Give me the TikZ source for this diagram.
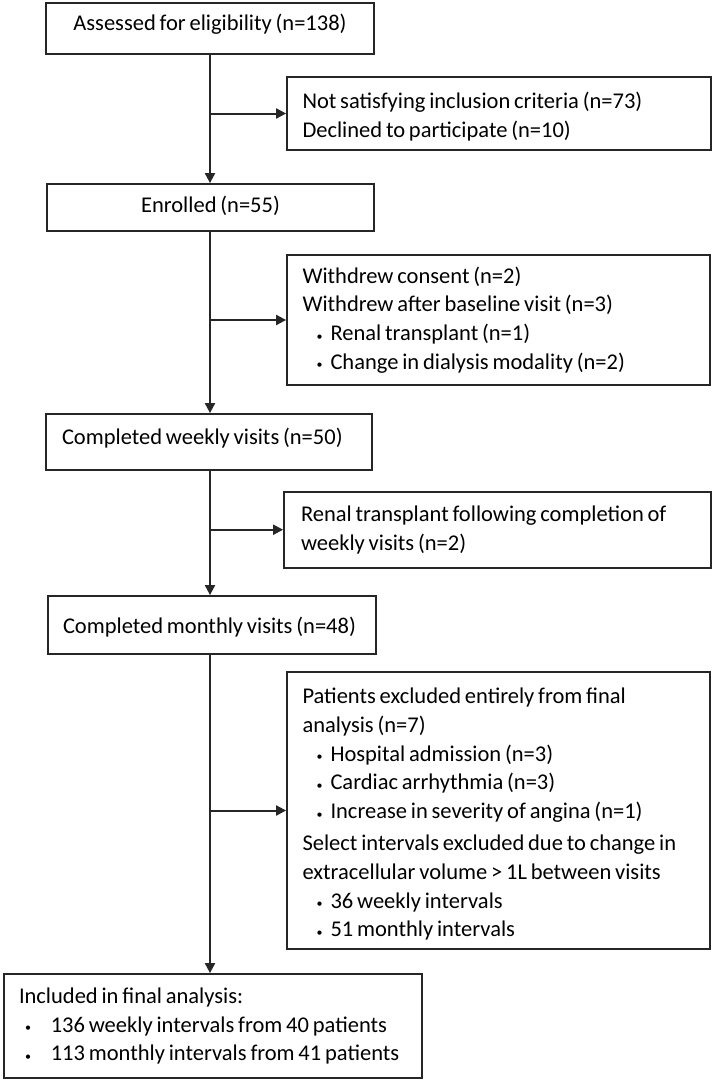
\documentclass[tikz,border=0pt]{standalone}
\usepackage{fontspec}
\setmainfont{Carlito}[WordSpace=0.75]
\usetikzlibrary{arrows.meta}
\newcommand\bul[1][14pt]{\hspace*{#1}\makebox[\dimexpr 28pt-#1\relax][l]{\raisebox{0.5pt}{\fontsize{12}{12}\selectfont •}}}
\newcommand\lift{\rule{0pt}{23pt}}
\definecolor{ink}{HTML}{262626}
\begin{document}
\begin{tikzpicture}[x=1pt,y=-1pt,
  box/.style={draw=ink, line width=1.8pt, inner ysep=0pt, font=\fontsize{22.5}{28.8}\selectfont},
  cbox/.style={box, align=center, inner xsep=0pt, text height=17pt},
  lbox/.style={box, align=left, execute at begin node={\spaceskip=0pt\xspaceskip=0pt\rightskip=0pt plus 1fil\hyphenpenalty=10000\relax}},
  arr/.style={-{Triangle[length=10pt,width=10pt]}, line width=2pt, draw=ink}]
\useasboundingbox (0,0) rectangle (714,1081);

\node[cbox, minimum width=328pt, minimum height=51pt, text depth=12.5pt] (A) at (210,28.5) {Assessed for eligibility (n=138)};
\node[lbox, inner xsep=15.5pt, text width=393pt, minimum height=73pt] (B) at (499,113.5)
  {\lift Not satisfying inclusion criteria (n=73)\\Declined to participate (n=10)};
\node[cbox, minimum width=327pt, minimum height=47pt, text depth=6.5pt] (C) at (210.5,207.5) {Enrolled (n=55)};
\node[lbox, inner xsep=15.5pt, text width=392pt, minimum height=130pt] (D) at (498.5,320)
  {Withdrew consent (n=2)\\Withdrew after baseline visit (n=3)\\\bul Renal transplant (n=1)\\\bul Change in dialysis modality (n=2)};
\node[lbox, inner xsep=16pt, text width=294pt, minimum height=56pt, text height=17pt, text depth=12.5pt] (E) at (209,442) {Completed weekly visits (n=50)};
\node[lbox, inner xsep=17pt, text width=393pt, minimum height=76pt] (F) at (497.5,529.7)
  {Renal transplant following completion of\\weekly visits (n=2)};
\node[lbox, inner xsep=15pt, text width=298pt, minimum height=58pt, text height=17pt, text depth=1pt] (G) at (212,625) {Completed monthly visits (n=48)};
\node[lbox, inner xsep=15.5pt, text width=392pt, minimum height=277pt] (H) at (498.5,810.5)
  {\lift Patients excluded entirely from final\\analysis (n=7)\\\bul Hospital admission (n=3)\\\bul Cardiac arrhythmia (n=3)\\\bul Increase in severity of angina (n=1)\\[3pt]Select intervals excluded due to change in\\extracellular volume > 1L between visits\\\bul 36 weekly intervals\\\bul 51 monthly intervals};
\node[lbox, inner xsep=15pt, text width=388pt, minimum height=104pt] (I) at (213,1026)
  {Included in final analysis:\\\bul[6pt] 136 weekly intervals from 40 patients\\\bul[6pt] 113 monthly intervals from 41 patients};

\draw[arr] (A.south) -- (A.south |- C.north);
\draw[arr] (A.south |- B.west) -- (B.west);
\draw[arr] (A.south |- C.south) -- (A.south |- E.north);
\draw[arr] (A.south |- D.west) -- (D.west);
\draw[arr] (A.south |- E.south) -- (A.south |- G.north);
\draw[arr] (A.south |- F.west) -- (F.west);
\draw[arr] (A.south |- G.south) -- (A.south |- I.north);
\draw[arr] (A.south |- H.west) -- (H.west);
\end{tikzpicture}
\end{document}
